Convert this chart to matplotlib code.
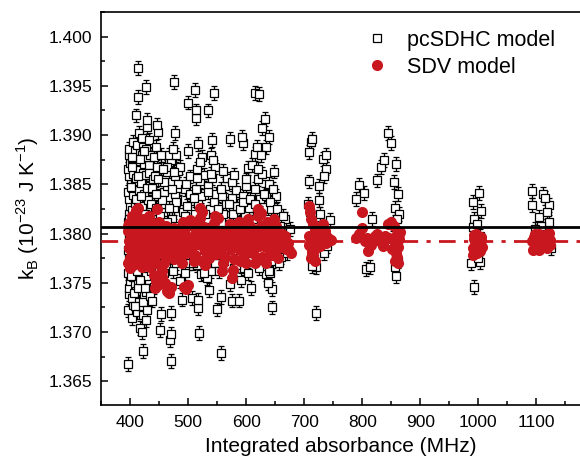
import numpy as np
import matplotlib
matplotlib.use("Agg")
import matplotlib.pyplot as plt
from matplotlib.ticker import MultipleLocator

plt.rcParams['font.family'] = ['Liberation Sans', 'DejaVu Sans']

# pcSDHC model points (open squares), grouped by absorbance band
sq_x = [397, 396, 398, 399, 400, 397, 401, 399, 396, 400, 398, 401, 397, 399, 400, 398, 396, 401, 399, 397, 400, 398, 399,
        404, 406, 403, 408, 405, 407, 404, 409, 406, 403, 408, 405, 407, 404, 409, 406, 403, 408, 405, 407, 404, 409, 406,
        417, 412, 415, 411, 414, 416, 413, 411, 415, 417, 412, 414, 416, 411, 413, 415, 417, 412, 416, 411, 413, 414,
        422, 420, 422, 419, 424, 421, 425, 419, 423, 421, 425, 420, 424, 419, 422, 425, 421, 423, 420,
        427, 430, 428, 433, 429, 432, 427, 431, 434, 428, 433, 430, 427, 432, 429, 430, 428,
        402, 405, 408, 411, 414, 417, 420, 423, 426, 429, 432, 435, 403, 407, 412, 416, 419, 424, 428, 431, 436, 439, 398, 401, 404, 409, 413, 418, 422, 426, 430, 434,
        438, 442, 437, 446, 440, 444, 448, 438, 443, 447, 441, 445, 448, 447, 452, 454,
        458, 462, 466, 457, 461, 465, 459, 463, 467, 460, 464, 468, 469, 470, 471,
        471, 474, 480, 472, 476, 481, 478, 484, 473, 477, 483, 470, 477, 476, 490,
        443, 447, 451, 455, 459, 463, 467, 471, 475, 479, 483, 487, 491, 495, 499, 452, 456, 460, 464, 468, 472, 476, 480, 486, 444, 449, 453, 457, 474,
        506, 495, 502, 494, 498, 504, 496, 503, 500, 500, 512,
        519, 518, 518, 522, 515, 526, 512, 517, 523, 514, 520, 527, 516, 524, 517, 513, 513,
        550, 536, 532, 540, 546, 533, 538, 544, 548, 535, 541, 547, 539, 542, 535, 545,
        557, 557, 554, 562, 556, 560, 565, 558, 563, 567,
        575, 573, 580, 586, 572, 578, 584, 576, 582, 573,
        588, 608, 591, 596, 603, 592, 598, 605, 594, 600, 604, 594, 593,
        634, 626, 612, 618, 624, 615, 621, 628, 610, 616, 619, 628, 632, 616, 623,
        644, 644, 637, 641, 646, 638, 643, 635, 640, 648, 634, 640,
        656, 660, 670, 675, 662, 667, 652,
        505, 510, 515, 521, 525, 530, 534, 539, 543, 548, 552, 557, 561, 566, 570, 575, 579, 584, 589, 595, 600,
        606, 611, 616, 621, 626, 630, 636, 642, 647, 653, 658, 664, 508, 528, 545, 563, 583, 604, 622, 640, 660,
        708, 712, 714, 708, 725, 725, 732, 738, 738, 735, 744, 735, 721, 714, 720, 706, 710, 716, 728, 740,
        790, 794, 803, 816, 825, 832, 837, 844, 849, 855, 859, 861, 856, 863, 807, 814, 856, 858, 862, 853, 860, 858,
        991, 1001, 1004, 993, 991, 988, 1002, 993, 997, 1000, 995, 1003,
        1093, 1092, 1111, 1104, 1121, 1121, 1125, 1115, 1108, 1098, 1118]
sq_y = [1.3668, 1.3722, 1.3739, 1.3745, 1.3752, 1.3760, 1.3768, 1.3775, 1.3783, 1.3790, 1.3798, 1.3805, 1.3812, 1.3820, 1.3828, 1.3835, 1.3842, 1.3850, 1.3858, 1.3866, 1.3872, 1.3880, 1.3886,
        1.3714, 1.3728, 1.3735, 1.3748, 1.3756, 1.3763, 1.3770, 1.3779, 1.3787, 1.3794, 1.3802, 1.3809, 1.3817, 1.3824, 1.3831, 1.3839, 1.3846, 1.3853, 1.3861, 1.3869, 1.3877, 1.3884, 1.3893,
        1.3704, 1.3720, 1.3731, 1.3742, 1.3750, 1.3758, 1.3771, 1.3781, 1.3796, 1.3810, 1.3822, 1.3833, 1.3844, 1.3856, 1.3865, 1.3874, 1.3882, 1.3890, 1.3902, 1.3920, 1.3939, 1.3968,
        1.3681, 1.3700, 1.3717, 1.3726, 1.3738, 1.3747, 1.3757, 1.3766, 1.3778, 1.3800, 1.3815, 1.3828, 1.3840, 1.3851, 1.3862, 1.3871, 1.3880, 1.3888, 1.3897,
        1.3712, 1.3730, 1.3741, 1.3753, 1.3765, 1.3776, 1.3819, 1.3834, 1.3848, 1.3860, 1.3870, 1.3878, 1.3886, 1.3895, 1.3908, 1.3915, 1.3949,
        1.3757, 1.3790, 1.3812, 1.3835, 1.3858, 1.3876, 1.3770, 1.3795, 1.3820, 1.3846, 1.3862, 1.3880, 1.3868, 1.3740, 1.3762, 1.3786, 1.3838, 1.3884, 1.3757, 1.3799, 1.3830, 1.3855, 1.3815, 1.3847, 1.3878, 1.3726, 1.3745, 1.3753, 1.3731, 1.3745, 1.3722, 1.3737,
        1.3732, 1.3746, 1.3762, 1.3775, 1.3812, 1.3826, 1.3838, 1.3846, 1.3858, 1.3868, 1.3878, 1.3888, 1.3903, 1.3910, 1.3702, 1.3718,
        1.3760, 1.3768, 1.3780, 1.3822, 1.3830, 1.3837, 1.3842, 1.3848, 1.3854, 1.3857, 1.3863, 1.3873, 1.3692, 1.3698, 1.3719,
        1.3671, 1.3762, 1.3770, 1.3815, 1.3826, 1.3834, 1.3840, 1.3846, 1.3852, 1.3858, 1.3864, 1.3875, 1.3902, 1.3954, 1.3733,
        1.3785, 1.3800, 1.3818, 1.3834, 1.3852, 1.3868, 1.3880, 1.3790, 1.3808, 1.3832, 1.3850, 1.3868, 1.3822, 1.3845, 1.3790, 1.3770, 1.3778, 1.3796, 1.3812, 1.3826, 1.3845, 1.3863, 1.3880, 1.3752, 1.3840, 1.3855, 1.3880, 1.3866, 1.3886,
        1.3735, 1.3760, 1.3770, 1.3818, 1.3828, 1.3840, 1.3850, 1.3858, 1.3884, 1.3933, 1.3946,
        1.3699, 1.3724, 1.3733, 1.3759, 1.3768, 1.3776, 1.3820, 1.3830, 1.3838, 1.3845, 1.3853, 1.3860, 1.3866, 1.3878, 1.3891, 1.3917, 1.3925,
        1.3723, 1.3743, 1.3755, 1.3762, 1.3770, 1.3815, 1.3825, 1.3832, 1.3840, 1.3848, 1.3856, 1.3868, 1.3880, 1.3895, 1.3925, 1.3943,
        1.3679, 1.3736, 1.3762, 1.3772, 1.3812, 1.3820, 1.3830, 1.3838, 1.3848, 1.3856,
        1.3732, 1.3749, 1.3765, 1.3775, 1.3810, 1.3820, 1.3828, 1.3836, 1.3844, 1.3896,
        1.3732, 1.3745, 1.3753, 1.3765, 1.3772, 1.3812, 1.3820, 1.3826, 1.3838, 1.3848, 1.3867, 1.3892, 1.3898,
        1.3759, 1.3770, 1.3815, 1.3825, 1.3835, 1.3845, 1.3855, 1.3861, 1.3870, 1.3881, 1.3888, 1.3907, 1.3916, 1.3943, 1.3942,
        1.3725, 1.3744, 1.3750, 1.3760, 1.3772, 1.3815, 1.3825, 1.3838, 1.3850, 1.3863, 1.3888, 1.3898,
        1.3770, 1.3776, 1.3780, 1.3805, 1.3812, 1.3815, 1.3838,
        1.3812, 1.3836, 1.3856, 1.3873, 1.3800, 1.3820, 1.3842, 1.3861, 1.3875, 1.3800, 1.3825, 1.3845, 1.3864, 1.3788, 1.3830, 1.3852, 1.3860, 1.3805, 1.3825, 1.3832, 1.3855,
        1.3835, 1.3805, 1.3830, 1.3866, 1.3880, 1.3840, 1.3808, 1.3832, 1.3845, 1.3825, 1.3808, 1.3818, 1.3770, 1.3760, 1.3778, 1.3780, 1.3768, 1.3760, 1.3765, 1.3762, 1.3790,
        1.3883, 1.3893, 1.3896, 1.3853, 1.3848, 1.3834, 1.3876, 1.3880, 1.3866, 1.3858, 1.3814, 1.3780, 1.3766, 1.3767, 1.3719, 1.3830, 1.3822, 1.3775, 1.3820, 1.3787,
        1.3835, 1.3849, 1.3841, 1.3815, 1.3854, 1.3868, 1.3875, 1.3902, 1.3892, 1.3852, 1.3871, 1.3840, 1.3826, 1.3820, 1.3764, 1.3766, 1.3766, 1.3757, 1.3772, 1.3810, 1.3815, 1.3780,
        1.3832, 1.3841, 1.3823, 1.3815, 1.3807, 1.3770, 1.3771, 1.3746, 1.3810, 1.3775, 1.3790, 1.3798,
        1.3843, 1.3829, 1.3840, 1.3817, 1.3829, 1.3812, 1.3785, 1.3836, 1.3808, 1.3805, 1.3822]
sq_err = 0.0007

# SDV model points (red circles)
sdv_x = [397, 400, 403, 406, 409, 412, 415, 418, 421, 424, 398, 401, 404, 407, 410, 413, 416, 419, 422, 425, 396, 399, 402, 405, 408, 411, 414, 417, 420, 423, 410, 414, 400, 405, 412, 420,
         399, 402, 405, 408, 411, 414, 417, 420, 423, 426, 429, 433, 436, 439, 443, 446, 450, 453, 457, 461, 465, 469, 473, 477, 397, 403, 418, 426, 435, 451, 462, 475,
         428, 432, 436, 440, 444, 448, 452, 456, 460, 464, 468, 472, 476, 430, 434, 438, 442, 446, 450, 454, 458, 462, 466, 470, 474, 478, 441, 445, 449, 443, 456, 460, 464, 468, 470, 455, 447, 432, 437,
         482, 486, 490, 494, 498, 502, 506, 510, 514, 518, 522, 526, 530, 534, 538, 542, 546, 550, 554, 558, 484, 488, 492, 496, 500, 504, 508, 512, 516, 520, 524, 528, 532, 536, 540, 544, 548, 552, 556, 493, 497, 500, 520, 524, 546, 552, 558,
         485, 491, 497, 503, 509, 515, 521, 527, 533, 539, 545, 551, 557, 563, 569, 576, 583, 589, 595, 601, 607, 613, 619, 625, 631, 637, 643, 649, 655, 661, 667, 673, 490, 510, 530, 560, 590, 615, 635, 655,
         562, 566, 570, 574, 578, 582, 586, 590, 594, 598, 602, 606, 610, 614, 618, 622, 626, 630, 634, 638, 642, 646, 650, 654, 658, 662, 666, 670, 674, 678, 564, 572, 580, 588, 596, 604, 612, 620, 628, 636, 644, 652, 660, 668, 575, 578, 600, 620, 625, 640, 648,
         708, 710, 712, 715, 718, 722, 726, 730, 734, 738, 742, 746, 709, 713, 716, 720, 724, 728, 732, 736, 740, 711, 714, 719, 708, 712, 730,
         790, 795, 800, 805, 810, 815, 820, 825, 830, 835, 840, 845, 850, 855, 860, 865, 800, 808, 812, 822, 828, 836, 846, 852, 856, 858, 860, 862, 864, 857, 861, 863,
         990, 993, 996, 999, 1002, 1005, 991, 994, 997, 1000, 1003, 1006, 992, 998, 1004,
         1092, 1096, 1100, 1104, 1108, 1112, 1116, 1120, 1124, 1094, 1098, 1102, 1106, 1110, 1114, 1118, 1122, 1095, 1105, 1115, 1123]
sdv_y = [1.3770, 1.3775, 1.3780, 1.3785, 1.3790, 1.3795, 1.3800, 1.3805, 1.3810, 1.3815, 1.3792, 1.3798, 1.3772, 1.3808, 1.3778, 1.3788, 1.3783, 1.3793, 1.3799, 1.3776, 1.3803, 1.3811, 1.3787, 1.3795, 1.3800, 1.3812, 1.3782, 1.3774, 1.3790, 1.3804, 1.3824, 1.3826, 1.3765, 1.3768, 1.3818, 1.3766,
         1.3785, 1.3800, 1.3810, 1.3778, 1.3802, 1.3792, 1.3814, 1.3784, 1.3795, 1.3806, 1.3778, 1.3788, 1.3812, 1.3796, 1.3790, 1.3782, 1.3788, 1.3806, 1.3797, 1.3785, 1.3804, 1.3795, 1.3788, 1.3792, 1.3808, 1.3818, 1.3770, 1.3772, 1.3766, 1.3768, 1.3776, 1.3774,
         1.3790, 1.3795, 1.3800, 1.3785, 1.3805, 1.3792, 1.3798, 1.3788, 1.3802, 1.3794, 1.3786, 1.3799, 1.3806, 1.3778, 1.3810, 1.3782, 1.3775, 1.3796, 1.3812, 1.3780, 1.3770, 1.3808, 1.3790, 1.3776, 1.3784, 1.3800, 1.3758, 1.3752, 1.3748, 1.3745, 1.3756, 1.3750, 1.3742, 1.3740, 1.3746, 1.3762, 1.3825, 1.3818, 1.3770,
         1.3790, 1.3796, 1.3784, 1.3800, 1.3808, 1.3792, 1.3786, 1.3798, 1.3804, 1.3810, 1.3788, 1.3794, 1.3782, 1.3799, 1.3806, 1.3790, 1.3797, 1.3785, 1.3802, 1.3793, 1.3776, 1.3803, 1.3812, 1.3780, 1.3787, 1.3814, 1.3795, 1.3778, 1.3789, 1.3816, 1.3772, 1.3807, 1.3798, 1.3775, 1.3783, 1.3811, 1.3779, 1.3800, 1.3788, 1.3746, 1.3744, 1.3748, 1.3826, 1.3822, 1.3818, 1.3816, 1.3762,
         1.3792, 1.3805, 1.3795, 1.3781, 1.3790, 1.3795, 1.3800, 1.3786, 1.3791, 1.3795, 1.3786, 1.3793, 1.3780, 1.3802, 1.3792, 1.3790, 1.3799, 1.3783, 1.3805, 1.3782, 1.3796, 1.3800, 1.3792, 1.3808, 1.3787, 1.3798, 1.3790, 1.3796, 1.3785, 1.3790, 1.3798, 1.3790, 1.3770, 1.3772, 1.3768, 1.3770, 1.3772, 1.3770, 1.3770, 1.3775,
         1.3795, 1.3788, 1.3802, 1.3784, 1.3796, 1.3790, 1.3805, 1.3798, 1.3786, 1.3800, 1.3793, 1.3808, 1.3790, 1.3796, 1.3804, 1.3787, 1.3799, 1.3792, 1.3806, 1.3785, 1.3797, 1.3802, 1.3790, 1.3795, 1.3788, 1.3800, 1.3792, 1.3786, 1.3783, 1.3780, 1.3776, 1.3810, 1.3774, 1.3812, 1.3778, 1.3815, 1.3780, 1.3818, 1.3776, 1.3812, 1.3778, 1.3808, 1.3796, 1.3784, 1.3755, 1.3763, 1.3770, 1.3825, 1.3821, 1.3778, 1.3815,
         1.3828, 1.3822, 1.3815, 1.3810, 1.3805, 1.3800, 1.3796, 1.3792, 1.3794, 1.3790, 1.3795, 1.3793, 1.3788, 1.3783, 1.3778, 1.3785, 1.3790, 1.3787, 1.3810, 1.3803, 1.3797, 1.3775, 1.3780, 1.3772, 1.3798, 1.3795, 1.3800,
         1.3796, 1.3800, 1.3822, 1.3792, 1.3782, 1.3788, 1.3795, 1.3800, 1.3792, 1.3787, 1.3798, 1.3810, 1.3812, 1.3808, 1.3800, 1.3802, 1.3806, 1.3796, 1.3790, 1.3798, 1.3794, 1.3790, 1.3796, 1.3784, 1.3790, 1.3780, 1.3776, 1.3786, 1.3795, 1.3772, 1.3770, 1.3800,
         1.3785, 1.3795, 1.3800, 1.3790, 1.3782, 1.3797, 1.3778, 1.3788, 1.3793, 1.3784, 1.3791, 1.3786, 1.3799, 1.3780, 1.3794,
         1.3792, 1.3797, 1.3786, 1.3800, 1.3790, 1.3795, 1.3788, 1.3799, 1.3793, 1.3783, 1.3800, 1.3794, 1.3787, 1.3797, 1.3790, 1.3785, 1.3801, 1.3795, 1.3783, 1.3799, 1.3788]
sdv_err = 0.0004

mean_pcsdhc = 1.38066
mean_sdv = 1.37923

red = '#c8171e'

fig = plt.figure(figsize=(5.8, 4.61), dpi=100)
ax = fig.add_axes([0.174, 0.1215, 0.826, 0.8525])

ax.errorbar(sq_x, sq_y, yerr=sq_err, fmt='s', ms=5.5, mfc='white', mec='black', mew=0.9,
            ecolor='black', elinewidth=0.9, capsize=2.5, capthick=0.9, label='pcSDHC model', zorder=2)
ax.errorbar(sdv_x, sdv_y, yerr=sdv_err, fmt='o', ms=8, mfc=red, mec=red, mew=0,
            ecolor='black', elinewidth=0.6, capsize=2, capthick=0.6, label='SDV model', zorder=3)

ax.axhline(mean_pcsdhc, color='black', lw=2, zorder=4)
ax.axhline(mean_sdv, color=red, lw=2, ls=(0, (6, 3, 1.5, 3)), zorder=4)

ax.set_xlim(350, 1175)
ax.set_ylim(1.3626, 1.4025)
ax.xaxis.set_major_locator(MultipleLocator(100))
ax.xaxis.set_minor_locator(MultipleLocator(50))
ax.yaxis.set_major_locator(MultipleLocator(0.005))
ax.yaxis.set_minor_locator(MultipleLocator(0.0025))
ax.yaxis.set_major_formatter(matplotlib.ticker.FormatStrFormatter('%.3f'))
ax.tick_params(which='both', direction='in', labelsize=12.5, width=1.1)
ax.tick_params(axis='x', pad=7)
ax.tick_params(axis='y', pad=6)
ax.tick_params(which='major', length=5)
ax.tick_params(which='minor', length=3)
ax.spines['right'].set_visible(False)
for s in ['left', 'bottom', 'top']:
    ax.spines[s].set_linewidth(1.2)
ax.tick_params(right=False, top=False, which='both')

ax.set_xlabel('Integrated absorbance (MHz)', fontsize=15, labelpad=5)
ax.set_ylabel(r'k$_\mathregular{B}$ (10$^\mathregular{-23}$ J K$^\mathregular{-1}$)', fontsize=15, labelpad=6)

handles, labels = ax.get_legend_handles_labels()
handles = [h[0] for h in handles]
fig.legend(handles, labels, loc='upper left', bbox_to_anchor=(0.631, 0.936), frameon=False,
           fontsize=15.5, handlelength=1.0, handletextpad=0.9, labelspacing=0.3,
           borderpad=0, borderaxespad=0)

fig.savefig('out.png', dpi=100)
